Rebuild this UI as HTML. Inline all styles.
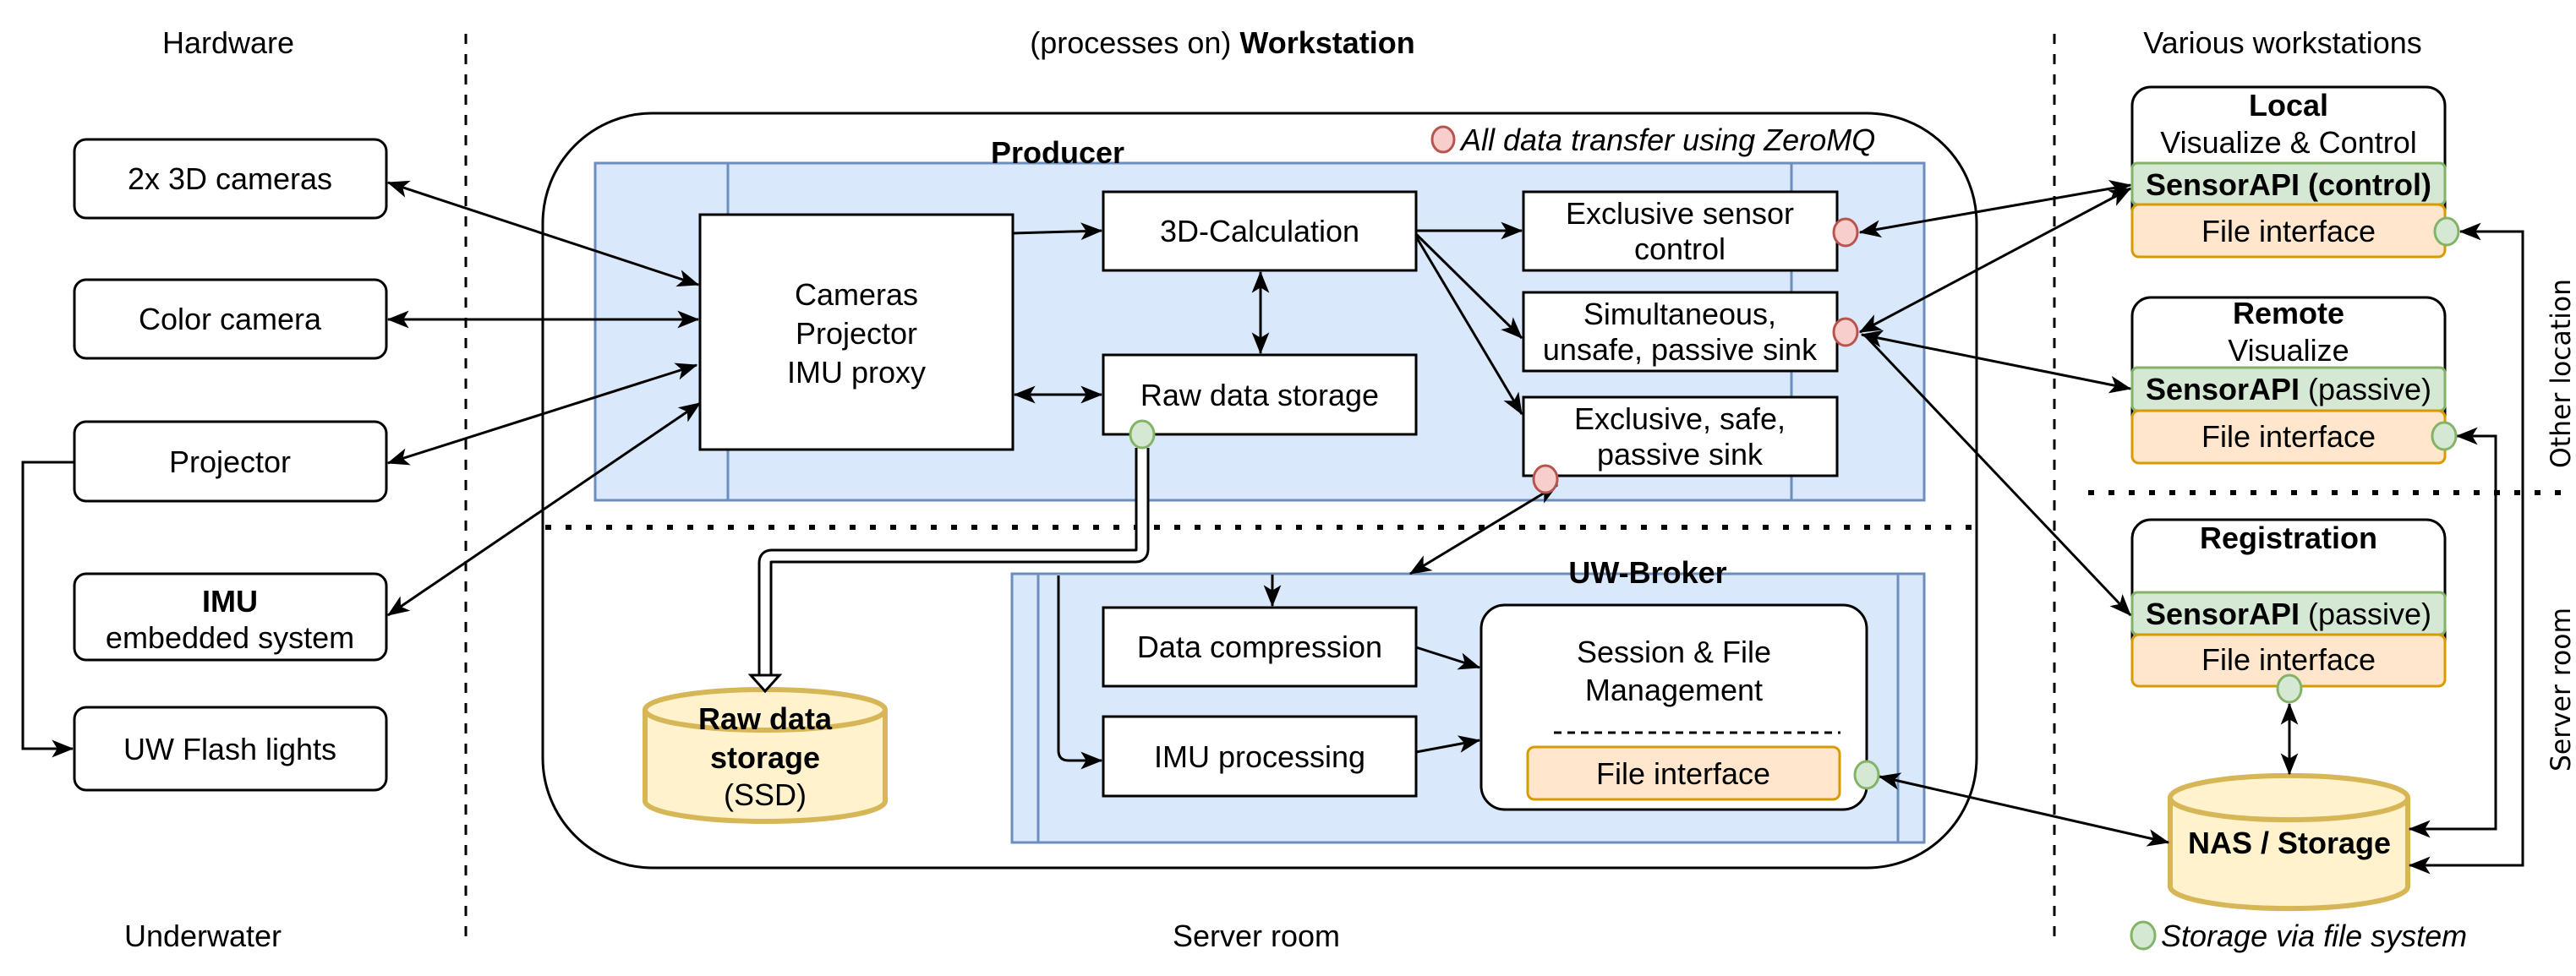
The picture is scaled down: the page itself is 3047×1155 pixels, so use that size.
<!DOCTYPE html>
<html><head><meta charset="utf-8"><style>
html,body{margin:0;padding:0;background:#fff;}
svg{display:block;}
text{font-family:"Liberation Sans",Arial,sans-serif;font-size:36px;fill:#000;}
.b{font-weight:bold;}
.i{font-style:italic;}
.r{font-family:"DejaVu Sans","Liberation Sans",sans-serif;font-size:32px;}
</style></head><body>
<svg width="3047" height="1155" viewBox="0 0 3047 1155" xmlns="http://www.w3.org/2000/svg">
<defs>
<marker id="a" viewBox="0 0 20 16" refX="19" refY="8" markerWidth="26" markerHeight="21" markerUnits="userSpaceOnUse" orient="auto-start-reverse">
<path d="M0,0 L20,8 L0,16 L5,8 z" fill="#000"/>
</marker>
</defs>

<text x="270" y="63" text-anchor="middle">Hardware</text>
<text x="1446" y="63" text-anchor="middle">(processes on) <tspan class="b">Workstation</tspan></text>
<text x="2700" y="63" text-anchor="middle">Various workstations</text>
<text x="240" y="1120" text-anchor="middle">Underwater</text>
<text x="1486" y="1120" text-anchor="middle">Server room</text>

<line x1="551" y1="40" x2="551" y2="1118" stroke="#000" stroke-width="3" stroke-dasharray="12 12"/>
<line x1="2430" y1="40" x2="2430" y2="1118" stroke="#000" stroke-width="3" stroke-dasharray="12 12"/>

<g fill="#fff" stroke="#000" stroke-width="3">
<rect x="88" y="165" width="369" height="93" rx="14"/>
<rect x="88" y="331" width="369" height="93" rx="14"/>
<rect x="88" y="499" width="369" height="94" rx="14"/>
<rect x="88" y="679" width="369" height="102" rx="14"/>
<rect x="88" y="837" width="369" height="98" rx="14"/>
</g>
<text x="272" y="224" text-anchor="middle">2x 3D cameras</text>
<text x="272" y="390" text-anchor="middle">Color camera</text>
<text x="272" y="559" text-anchor="middle">Projector</text>
<text x="272" y="724" text-anchor="middle" class="b">IMU</text>
<text x="272" y="767" text-anchor="middle">embedded system</text>
<text x="272" y="899" text-anchor="middle">UW Flash lights</text>

<rect x="642" y="134" width="1696" height="893" rx="130" fill="#fff" stroke="#000" stroke-width="3"/>
<line x1="645" y1="624" x2="2336" y2="624" stroke="#000" stroke-width="6" stroke-dasharray="7 17"/>

<ellipse cx="1707" cy="165" rx="13" ry="15" fill="#f8cecc" stroke="#b85450" stroke-width="3"/>
<text x="1728" y="178" class="i">All data transfer using ZeroMQ</text>

<rect x="704" y="193" width="1572" height="399" fill="#dae8fc" stroke="#6c8ebf" stroke-width="3"/>
<line x1="861" y1="193" x2="861" y2="592" stroke="#6c8ebf" stroke-width="3"/>
<line x1="2119" y1="193" x2="2119" y2="592" stroke="#6c8ebf" stroke-width="3"/>
<text x="1251" y="193" text-anchor="middle" class="b">Producer</text>

<g fill="#fff" stroke="#000" stroke-width="3">
<rect x="828" y="254" width="370" height="278"/>
<rect x="1305" y="227" width="370" height="93"/>
<rect x="1305" y="420" width="370" height="94"/>
<rect x="1802" y="227" width="371" height="93"/>
<rect x="1802" y="346" width="371" height="93"/>
<rect x="1802" y="470" width="371" height="93"/>
</g>
<text x="1013" y="361" text-anchor="middle">Cameras</text>
<text x="1013" y="407" text-anchor="middle">Projector</text>
<text x="1013" y="453" text-anchor="middle">IMU proxy</text>
<text x="1490" y="286" text-anchor="middle">3D-Calculation</text>
<text x="1490" y="480" text-anchor="middle">Raw data storage</text>
<text x="1987" y="265" text-anchor="middle">Exclusive sensor</text>
<text x="1987" y="307" text-anchor="middle">control</text>
<text x="1987" y="384" text-anchor="middle">Simultaneous,</text>
<text x="1987" y="426" text-anchor="middle">unsafe, passive sink</text>
<text x="1987" y="508" text-anchor="middle">Exclusive, safe,</text>
<text x="1987" y="550" text-anchor="middle">passive sink</text>

<rect x="1197" y="679" width="1079" height="318" fill="#dae8fc" stroke="#6c8ebf" stroke-width="3"/>
<line x1="1228" y1="679" x2="1228" y2="997" stroke="#6c8ebf" stroke-width="3"/>
<line x1="2245" y1="679" x2="2245" y2="997" stroke="#6c8ebf" stroke-width="3"/>
<text x="1949" y="690" text-anchor="middle" class="b">UW-Broker</text>
<g fill="#fff" stroke="#000" stroke-width="3">
<rect x="1305" y="719" width="370" height="93"/>
<rect x="1305" y="848" width="370" height="94"/>
<rect x="1752" y="716" width="456" height="242" rx="28"/>
</g>
<text x="1490" y="778" text-anchor="middle">Data compression</text>
<text x="1490" y="908" text-anchor="middle">IMU processing</text>
<text x="1980" y="784" text-anchor="middle">Session &amp; File</text>
<text x="1980" y="829" text-anchor="middle">Management</text>
<line x1="1838" y1="867" x2="2177" y2="867" stroke="#000" stroke-width="3" stroke-dasharray="9 7"/>
<rect x="1807" y="884" width="369" height="62" rx="8" fill="#ffe6cc" stroke="#d79b00" stroke-width="3"/>
<text x="1991" y="928" text-anchor="middle">File interface</text>

<path d="M763,840 A142,24 0 0 1 1047,840 V948 A142,24 0 0 1 763,948 Z" fill="#fff2cc" stroke="#d6b656" stroke-width="6"/>
<path d="M763,840 A142,24 0 0 0 1047,840" fill="none" stroke="#d6b656" stroke-width="6"/>
<text x="905" y="863" text-anchor="middle" class="b">Raw data</text>
<text x="905" y="909" text-anchor="middle" class="b">storage</text>
<text x="905" y="953" text-anchor="middle">(SSD)</text>

<path d="M1351,530 V650 Q1351,658 1343,658 H913 Q905,658 905,666 V799" fill="none" stroke="#000" stroke-width="17"/>
<path d="M1351,530 V650 Q1351,658 1343,658 H913 Q905,658 905,666 V801" fill="none" stroke="#fff" stroke-width="11"/>
<polygon points="888,799 922,799 905,818" fill="#fff" stroke="#000" stroke-width="3"/>

<path d="M2567,944 A140,26 0 0 1 2848,944 V1049 A140,26 0 0 1 2567,1049 Z" fill="#fff2cc" stroke="#d6b656" stroke-width="6"/>
<path d="M2567,944 A140,26 0 0 0 2848,944" fill="none" stroke="#d6b656" stroke-width="6"/>
<text x="2708" y="1010" text-anchor="middle" class="b">NAS / Storage</text>

<line x1="2470" y1="583" x2="3035" y2="583" stroke="#000" stroke-width="6" stroke-dasharray="7 17"/>
<g stroke-width="3">
<rect x="2522" y="103" width="370" height="201" rx="22" fill="#fff" stroke="#000"/>
<rect x="2522" y="193" width="370" height="49" rx="6" fill="#d5e8d4" stroke="#82b366"/>
<rect x="2522" y="242" width="370" height="62" rx="8" fill="#ffe6cc" stroke="#d79b00"/>
<rect x="2522" y="352" width="370" height="196" rx="22" fill="#fff" stroke="#000"/>
<rect x="2522" y="435" width="370" height="51" rx="6" fill="#d5e8d4" stroke="#82b366"/>
<rect x="2522" y="486" width="370" height="62" rx="8" fill="#ffe6cc" stroke="#d79b00"/>
<rect x="2522" y="615" width="370" height="197" rx="22" fill="#fff" stroke="#000"/>
<rect x="2522" y="701" width="370" height="50" rx="6" fill="#d5e8d4" stroke="#82b366"/>
<rect x="2522" y="751" width="370" height="61" rx="8" fill="#ffe6cc" stroke="#d79b00"/>
</g>
<text x="2707" y="137" text-anchor="middle" class="b">Local</text>
<text x="2707" y="181" text-anchor="middle">Visualize &amp; Control</text>
<text x="2707" y="231" text-anchor="middle" class="b">SensorAPI (control)</text>
<text x="2707" y="286" text-anchor="middle">File interface</text>
<text x="2707" y="383" text-anchor="middle" class="b">Remote</text>
<text x="2707" y="427" text-anchor="middle">Visualize</text>
<text x="2707" y="473" text-anchor="middle"><tspan class="b">SensorAPI</tspan> (passive)</text>
<text x="2707" y="529" text-anchor="middle">File interface</text>
<text x="2707" y="649" text-anchor="middle" class="b">Registration</text>
<text x="2707" y="739" text-anchor="middle"><tspan class="b">SensorAPI</tspan> (passive)</text>
<text x="2707" y="793" text-anchor="middle">File interface</text>

<text class="r" transform="translate(3040,442) rotate(-90)" text-anchor="middle" textLength="224" lengthAdjust="spacingAndGlyphs">Other location</text>
<text class="r" transform="translate(3040,816) rotate(-90)" text-anchor="middle" textLength="194" lengthAdjust="spacingAndGlyphs">Server room</text>

<g stroke="#000" stroke-width="3" fill="none" marker-end="url(#a)" marker-start="url(#a)">
<line x1="459" y1="216" x2="826" y2="337"/>
<line x1="459" y1="378" x2="826" y2="378"/>
<line x1="459" y1="548" x2="824" y2="432"/>
<line x1="459" y1="728" x2="828" y2="477"/>
<line x1="1200" y1="467" x2="1303" y2="467"/>
<line x1="1491" y1="322" x2="1491" y2="418"/>
<line x1="1842" y1="574" x2="1668" y2="679"/>
<line x1="2200" y1="275" x2="2520" y2="219"/>
<line x1="2200" y1="393" x2="2520" y2="223"/>
<line x1="2202" y1="396" x2="2520" y2="460"/>
<line x1="2223" y1="919" x2="2565" y2="997"/>
<line x1="2708" y1="833" x2="2708" y2="916"/>
<path d="M2910,274 H2984 V1024 H2850"/>
<path d="M2906,516 H2952 V981 H2850"/>
</g>
<g stroke="#000" stroke-width="3" fill="none" marker-end="url(#a)">
<path d="M1198,276 L1303,273"/>
<path d="M1675,273 L1800,273"/>
<path d="M1675,277 L1800,400"/>
<path d="M1675,280 L1800,490"/>
<path d="M1675,766 L1750,790"/>
<path d="M1675,890 L1750,876"/>
<path d="M1505,680 V717"/>
<path d="M1252,681 V888 Q1252,900 1264,900 H1303"/>
<path d="M2207,398 L2520,728"/>
<path d="M88,547 H27 V886 H86"/>
</g>

<g fill="#f8cecc" stroke="#b85450" stroke-width="3">
<ellipse cx="2183" cy="275" rx="14" ry="16"/>
<ellipse cx="2183" cy="393" rx="14" ry="16"/>
<ellipse cx="1828" cy="567" rx="14" ry="16"/>
</g>
<g fill="#d5e8d4" stroke="#82b366" stroke-width="3">
<ellipse cx="1351" cy="514" rx="14" ry="16"/>
<ellipse cx="2208" cy="917" rx="14" ry="16"/>
<ellipse cx="2894" cy="274" rx="14" ry="16"/>
<ellipse cx="2891" cy="516" rx="14" ry="16"/>
<ellipse cx="2708" cy="815" rx="14" ry="16"/>
<ellipse cx="2535" cy="1107" rx="14" ry="16"/>
</g>
<text x="2556" y="1120" class="i">Storage via file system</text>
</svg>
</body></html>
